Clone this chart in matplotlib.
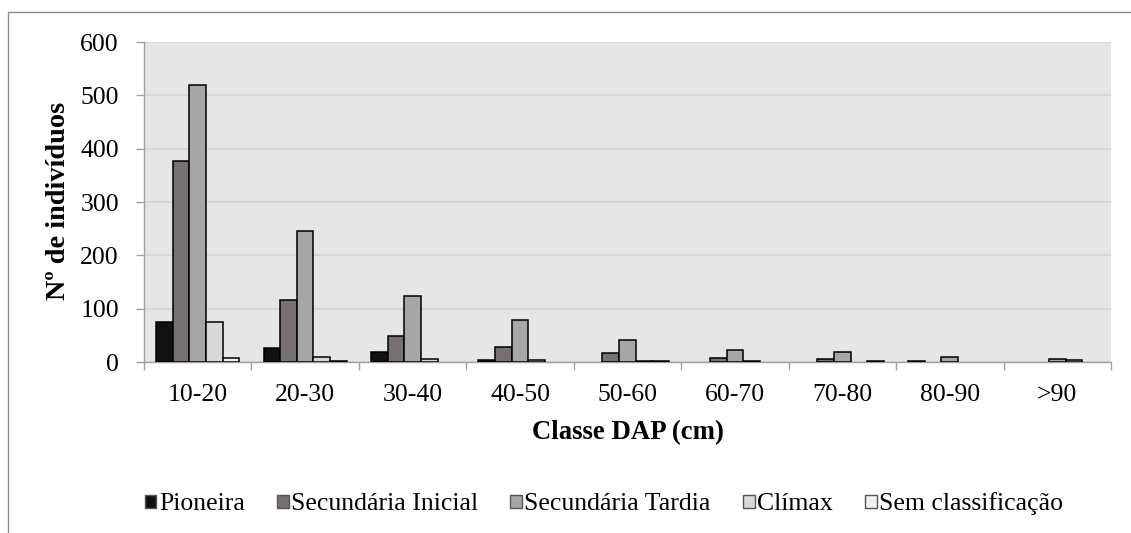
import numpy as np
import matplotlib.pyplot as plt
from matplotlib.patches import Rectangle

plt.rcParams['font.family'] = ['Liberation Serif', 'DejaVu Serif']

# classes de diâmetro (DAP) e número de indivíduos por grupo ecológico
classes = ['10-20', '20-30', '30-40', '40-50', '50-60', '60-70', '70-80', '80-90', '>90']
pioneira = [75, 26, 19, 3, 0, 0, 0, 2, 0]
sec_inicial = [376, 117, 48, 29, 17, 8, 6, 0, 0]
sec_tardia = [520, 245, 123, 78, 41, 22, 19, 9, 5]
climax = [75, 9, 5, 3, 2, 2, 0, 0, 3]
sem_class = [7, 2, 0, 0, 2, 0, 2, 0, 0]

grupos = ['Pioneira', 'Secundária Inicial', 'Secundária Tardia', 'Clímax', 'Sem classificação']
cores = ['#111111', '#767170', '#a6a6a6', '#d9d9d9', '#f2f2f2']
series = [pioneira, sec_inicial, sec_tardia, climax, sem_class]

fig = plt.figure(figsize=(11.31, 5.33), dpi=100)
ax = fig.add_axes([0.1273, 0.3208, 0.8550, 0.6004])

x = np.arange(len(classes))
w = 0.155
for i, (nome, vals, cor) in enumerate(zip(grupos, series, cores)):
    vals = np.array(vals)
    lw = np.where(vals > 0, 1.1, 0.0)
    ax.bar(x + (i - 2) * w, vals, width=w, color=cor, edgecolor='black',
           linewidth=lw, label=nome, zorder=3)

ax.set_facecolor('#e6e6e6')
ax.set_xlim(-0.5, len(classes) - 0.5)
ax.set_ylim(0, 600)
ax.set_yticks(range(0, 601, 100))
ax.yaxis.grid(True, color='#d6d6d6', linewidth=1.3, zorder=0)
ax.set_axisbelow(True)

ax.set_xticks(x)
ax.set_xticklabels(classes)
ax.set_xticks(np.arange(-0.5, len(classes)), minor=True)
ax.tick_params(axis='x', which='major', length=0, pad=16, labelsize=18.5)
ax.tick_params(axis='x', which='minor', length=6, color='#a0a0a0', width=1)
ax.tick_params(axis='y', length=6, color='#a0a0a0', width=1, pad=12, labelsize=18.5)

for s in ['top', 'right']:
    ax.spines[s].set_visible(False)
for s in ['left', 'bottom']:
    ax.spines[s].set_color('#a0a0a0')
    ax.spines[s].set_linewidth(1)

ax.set_ylabel('Nº de indivíduos', fontsize=20.3, fontweight='bold')
ax.yaxis.set_label_coords(-0.075, 0.503)
ax.set_xlabel('Classe DAP (cm)', fontsize=19.3, fontweight='bold')
ax.xaxis.set_label_coords(0.5, -0.182)

leg = fig.legend(loc='center', bbox_to_anchor=(0.534, 0.0545), ncol=5, frameon=False,
                 fontsize=18.5, handlelength=0.45, handleheight=0.4,
                 handletextpad=0.1, columnspacing=1.25)
for h in leg.legend_handles:
    h.set_edgecolor('#555555')
    h.set_linewidth(1)

# moldura externa do gráfico
fig.patches.append(Rectangle((8 / 1131, -0.1), 1.2, (533 - 12) / 533 + 0.1,
                             transform=fig.transFigure, fill=False,
                             edgecolor='#8c8c8c', linewidth=1))

fig.savefig('out.png', dpi=100)
plt.close()
